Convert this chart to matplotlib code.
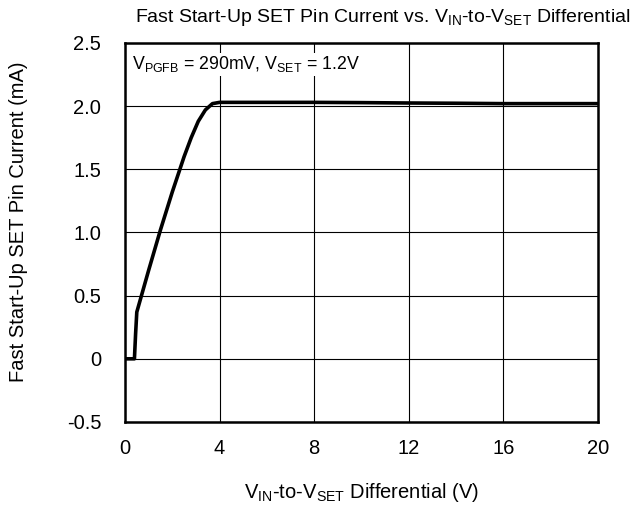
import numpy as np
import matplotlib.pyplot as plt

plt.rcParams['font.family'] = ['Liberation Sans', 'DejaVu Sans']
plt.rcParams['mathtext.fontset'] = 'custom'
plt.rcParams['mathtext.rm'] = 'Liberation Sans'
plt.rcParams['mathtext.it'] = 'Liberation Sans'

# readings
v_diff = [0, 0.40, 0.45, 0.50, 1.0, 1.5, 2.0, 2.5, 2.8, 3.1, 3.4, 3.7, 4.0,
          6, 8, 10, 12, 14, 16, 18, 20]
i_set = [0, 0, 0.2, 0.37, 0.70, 1.02, 1.32, 1.60, 1.75, 1.88, 1.97, 2.02, 2.03,
         2.03, 2.03, 2.028, 2.025, 2.023, 2.02, 2.02, 2.02]

xticks = [0, 4, 8, 12, 16, 20]
yticks = [-0.5, 0, 0.5, 1.0, 1.5, 2.0, 2.5]
ylabels = ['-0.5', '0', '0.5', '1.0', '1.5', '2.0', '2.5']

fs = 14.5

fig = plt.figure(figsize=(6.36, 5.07), dpi=100)
ax = fig.add_axes([0.1965, 0.1677, 0.7435, 0.7475])

ax.plot(v_diff, i_set, color='black', lw=2.6, solid_joinstyle='round')

ax.set_xlim(0, 20)
ax.set_ylim(-0.5, 2.5)
ax.set_xticks(xticks)
ax.set_yticks(yticks)
ax.set_yticklabels(ylabels)
ax.tick_params(length=0, labelsize=fs)
ax.tick_params(axis='y', pad=17)
ax.tick_params(axis='x', pad=12)
ax.grid(True, color='black', lw=0.8)
for s in ax.spines.values():
    s.set_linewidth(1.8)

ax.text(0.3, 2.33, r'V$_{\mathregular{PGFB}}$ = 290mV, V$_{\mathregular{SET}}$ = 1.2V',
        fontsize=12.8, va='center', ha='left',
        bbox=dict(facecolor='white', edgecolor='none', pad=1))

ax.set_xlabel(r'V$_{\mathregular{IN}}$-to-V$_{\mathregular{SET}}$ Differential (V)',
              fontsize=fs, labelpad=17)
ax.set_ylabel('Fast Start-Up SET Pin Current (mA)', fontsize=fs, va='center')
ax.yaxis.set_label_coords(-0.226, 0.528)
fig.text(630 / 636, 1 - 18 / 507,
         r'Fast Start-Up SET Pin Current vs. V$_{\mathregular{IN}}$-to-V$_{\mathregular{SET}}$ Differential',
         fontsize=14, ha='right', va='center')

fig.savefig('out.png', dpi=100)
